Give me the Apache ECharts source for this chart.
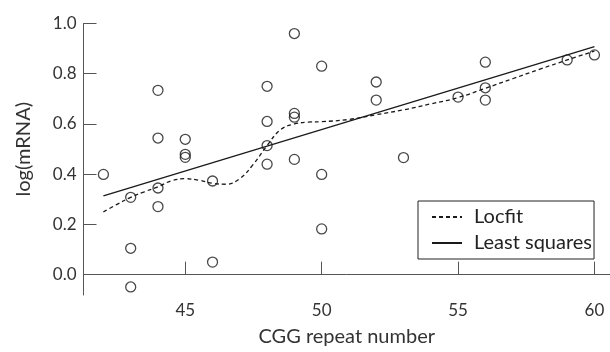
<!DOCTYPE html>
<html>
<head>
<meta charset="utf-8">
<script src="https://cdn.jsdelivr.net/npm/echarts@6/dist/echarts.min.js"></script>
<style>
html,body{margin:0;padding:0;background:#fff;}
#chart{width:610px;height:352px;}
</style>
</head>
<body>
<div id="chart"></div>
<script>
// Observed data: CGG repeat number vs log(mRNA)
const cggRepeat = [42, 43, 43, 43, 44, 44, 44, 44, 45, 45, 45, 46, 46, 48, 48, 48, 48, 49, 49, 49, 49, 50, 50, 50, 52, 52, 53, 55, 56, 56, 56, 59, 60];
const logMRNA   = [0.399, 0.308, 0.105, -0.049, 0.734, 0.544, 0.345, 0.271, 0.539, 0.479, 0.467, 0.373, 0.050, 0.750, 0.610, 0.514, 0.440, 0.960, 0.642, 0.627, 0.459, 0.830, 0.399, 0.182, 0.767, 0.695, 0.466, 0.707, 0.846, 0.744, 0.695, 0.855, 0.875];

// Locfit curve
const locfitX = [42, 42.5, 43, 43.5, 44, 44.5, 45, 45.5, 46, 46.5, 47, 47.5, 48, 48.5, 49, 49.5, 50, 51, 52, 53, 54, 55, 56, 57, 58, 59, 60];
const locfitY = [0.250, 0.280, 0.308, 0.330, 0.350, 0.374, 0.382, 0.376, 0.364, 0.360, 0.382, 0.440, 0.514, 0.578, 0.600, 0.607, 0.609, 0.618, 0.637, 0.656, 0.680, 0.705, 0.742, 0.780, 0.818, 0.855, 0.890];

// Least squares line end points
const lsX = [42, 60];
const lsY = [0.314, 0.908];

// Tick labels
const xTicks = [45, 50, 55, 60];
const yTicks = [0.0, 0.2, 0.4, 0.6, 0.8, 1.0];

const FONT = 'Lato';
const INK = '#1a1a1a';
const AX = '#555';

const chart = echarts.init(document.getElementById('chart'));
chart.setOption({
  animation: false,
  backgroundColor: '#fff',
  grid: { left: 83.5, right: 0, top: 23.5, bottom: 53.7, containLabel: false },
  xAxis: {
    type: 'value', min: 41.27, max: 60.57,
    name: 'CGG repeat number', nameLocation: 'middle', nameGap: 32,
    nameTextStyle: { fontFamily: FONT, fontSize: 20, color: '#333' },
    axisLine: { lineStyle: { color: AX, width: 1 } },
    axisTick: { inside: true, length: 13, customValues: xTicks, lineStyle: { color: AX } },
    axisLabel: { customValues: xTicks, fontFamily: FONT, fontSize: 17, color: '#333', margin: 7 },
    splitLine: { show: false }
  },
  yAxis: {
    type: 'value', min: -0.081, max: 1.0,
    name: 'log(mRNA)', nameLocation: 'middle', nameGap: 50,
    nameTextStyle: { fontFamily: FONT, fontSize: 20, color: '#333', padding: [0, 0, 0, 20] },
    axisLine: { show: true, lineStyle: { color: AX, width: 1 } },
    axisTick: { show: true, inside: true, length: 13, customValues: yTicks, lineStyle: { color: AX } },
    axisLabel: { customValues: yTicks, fontFamily: FONT, fontSize: 17, color: '#333', margin: 7,
      formatter: v => v.toFixed(1) },
    splitLine: { show: false }
  },
  legend: {
    data: ['Locfit', 'Least squares'],
    orient: 'vertical', left: 418, top: 201,
    borderColor: '#222', borderWidth: 1, borderRadius: 0,
    padding: [5, 2, 5, 13],
    itemWidth: 30, itemHeight: 12, itemGap: 4,
    itemStyle: { opacity: 0 },
    textStyle: { fontFamily: FONT, fontSize: 20, color: '#222', lineHeight: 22, padding: [0, 0, 0, 7] }
  },
  series: [
    {
      name: 'data', type: 'scatter',
      data: cggRepeat.map((x, i) => [x, logMRNA[i]]),
      symbol: 'circle', symbolSize: 10,
      itemStyle: { color: 'rgba(0,0,0,0)', borderColor: INK, borderWidth: 1.3 },
      z: 3
    },
    {
      name: 'Locfit', type: 'line',
      data: locfitX.map((x, i) => [x, locfitY[i]]),
      smooth: 0.4, symbol: 'none', showSymbol: false,
      lineStyle: { color: INK, width: 1.3, type: [4, 3] },
      itemStyle: { color: INK }
    },
    {
      name: 'Least squares', type: 'line',
      data: lsX.map((x, i) => [x, lsY[i]]),
      symbol: 'none', showSymbol: false,
      lineStyle: { color: INK, width: 1.3, type: 'solid' },
      itemStyle: { color: INK }
    }
  ]
});
</script>
</body>
</html>
